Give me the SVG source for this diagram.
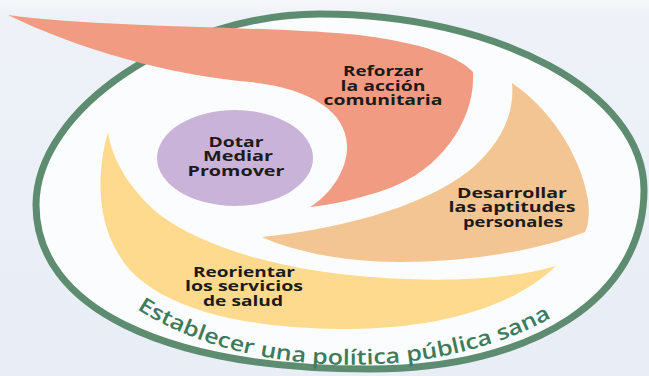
<svg xmlns="http://www.w3.org/2000/svg" width="649" height="376" viewBox="0 0 649 376">
  <defs>
    <linearGradient id="bg" x1="0" y1="0" x2="0" y2="1">
      <stop offset="0" stop-color="#f6f7fa"/>
      <stop offset="0.04" stop-color="#eef2f8"/>
      <stop offset="1" stop-color="#e8edf6"/>
    </linearGradient>
    <path id="arcText" d="M 137,309 A 290 171 0 0 0 580,299"/>
    <style>
      .lbl { font-family: "Open Sans", "DejaVu Sans", sans-serif; font-weight: 700; font-size: 14.5px; fill: #1c1b1a; text-anchor: middle; }
      .arc { font-family: "Open Sans", "DejaVu Sans", sans-serif; font-weight: 600; font-size: 21px; fill: #3d7b5d; }
    </style>
  </defs>
  <rect width="649" height="376" fill="url(#bg)"/>

  <g id="frame">
    <path d="M 320,14 C 499,14 644,93 644,190 C 644,297 534,369 370,369 C 163,369 36,307 36,205 C 36,109 178,14 320,14 Z" fill="#fbfcfd" stroke="#5d8c71" stroke-width="7"/>
  </g>

  <g id="node-reorientar">
    <path d="M 108,132 C 96,175 95,230 130,270 C 170,312 250,328 340,329 C 430,330 510,310 556,266 C 500,282 420,283 340,274 C 270,266 200,245 160,215 C 130,190 112,160 108,132 Z" fill="#fdda8d"/>
    <text class="lbl"><tspan x="244" y="276.5" textLength="102" lengthAdjust="spacingAndGlyphs">Reorientar</tspan><tspan x="244" y="291" textLength="118" lengthAdjust="spacingAndGlyphs">los servicios</tspan><tspan x="243" y="305.5" textLength="80" lengthAdjust="spacingAndGlyphs">de salud</tspan></text>
  </g>

  <g id="node-desarrollar">
    <path d="M 262,237 C 330,230 420,210 470,170 C 500,145 515,115 512,83 C 545,105 580,150 588,200 C 590,215 588,225 585,232 C 540,250 470,262 400,262 C 340,262 290,250 262,237 Z" fill="#f2c592"/>
    <text class="lbl"><tspan x="512" y="197.5" textLength="110" lengthAdjust="spacingAndGlyphs">Desarrollar</tspan><tspan x="512" y="212" textLength="127" lengthAdjust="spacingAndGlyphs">las aptitudes</tspan><tspan x="513" y="226.5" textLength="100" lengthAdjust="spacingAndGlyphs">personales</tspan></text>
  </g>

  <g id="node-reforzar">
    <path d="M 8,15 C 120,30 300,25 380,38 C 430,46 460,58 473,72 C 476,120 440,170 390,188 C 360,199 330,205 310,207 C 330,195 348,170 347,145 C 346,112 310,88 250,82 C 170,75 80,50 8,15 Z" fill="#f19c82"/>
    <text class="lbl"><tspan x="383" y="76" textLength="80" lengthAdjust="spacingAndGlyphs">Reforzar</tspan><tspan x="383" y="90.5" textLength="85" lengthAdjust="spacingAndGlyphs">la acción</tspan><tspan x="383" y="105" textLength="119" lengthAdjust="spacingAndGlyphs">comunitaria</tspan></text>
  </g>

  <g id="node-centro">
    <ellipse cx="235" cy="158" rx="78" ry="48" fill="#c9b3d9"/>
    <text class="lbl"><tspan x="236" y="146.5" textLength="55" lengthAdjust="spacingAndGlyphs">Dotar</tspan><tspan x="238" y="161" textLength="70" lengthAdjust="spacingAndGlyphs">Mediar</tspan><tspan x="236" y="175.5" textLength="97" lengthAdjust="spacingAndGlyphs">Promover</tspan></text>
  </g>

  <g id="label-politica">
    <text class="arc"><textPath href="#arcText" textLength="432" lengthAdjust="spacingAndGlyphs">Establecer una política pública sana</textPath></text>
  </g>

  <g id="connectors"/>
</svg>
